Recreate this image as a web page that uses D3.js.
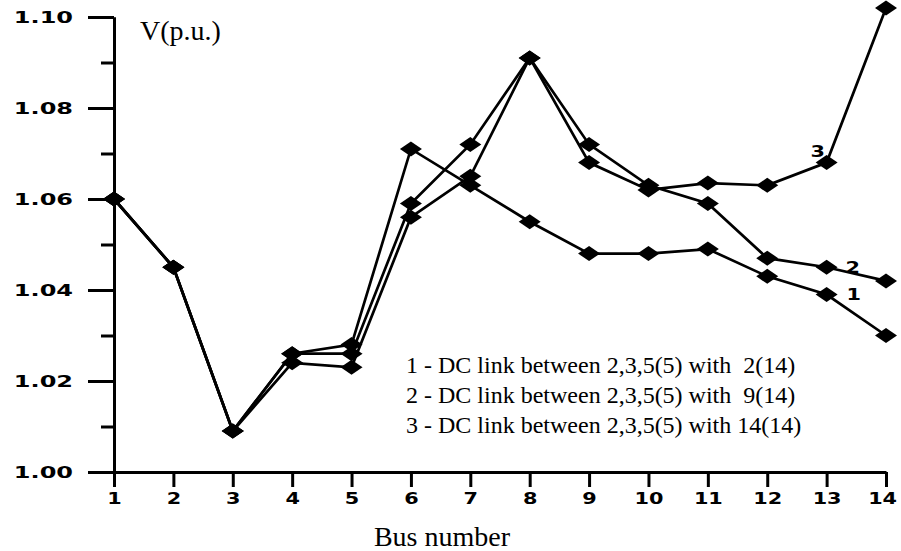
<!DOCTYPE html>
<html lang="en">
    <head>
        <meta charset="utf-8">
        <title>Bus voltage profile</title>
        <script type="text/javascript" src="https://cdn.jsdelivr.net/npm/d3@7"></script>
        <style type="text/css">
            body { margin: 0; background: #fff; }

            .axis path,
            .axis line {
                fill: none;
                stroke: black;
                stroke-width: 3px;
            }

            .axis text,
            .tag {
                font-family: "DejaVu Sans", sans-serif;
                font-weight: bold;
                font-size: 16px;
                fill: black;
            }

            .serif {
                font-family: "Liberation Serif", "Times New Roman", serif;
                fill: black;
            }
        </style>
    </head>
    <body>
        <script type="text/javascript">

            // Width and height
            var w = 901;
            var h = 551;

            // Data
            var buses = [1, 2, 3, 4, 5, 6, 7, 8, 9, 10, 11, 12, 13, 14];
            var series1 = [1.060, 1.045, 1.009, 1.026, 1.028, 1.071, 1.063, 1.055, 1.048, 1.048, 1.049, 1.043, 1.039, 1.030];
            var series2 = [1.060, 1.045, 1.009, 1.026, 1.026, 1.059, 1.072, 1.091, 1.072, 1.063, 1.059, 1.047, 1.045, 1.042];
            var series3 = [1.060, 1.045, 1.009, 1.024, 1.023, 1.056, 1.065, 1.091, 1.068, 1.062, 1.0635, 1.063, 1.068, 1.102];
            var seriesNames = ["1", "2", "3"];
            var yMajor = [1.00, 1.02, 1.04, 1.06, 1.08, 1.10];
            var yMinor = [1.01, 1.03, 1.05, 1.07, 1.09];
            var legendLines = [
                "1 - DC link between 2,3,5(5) with  2(14)",
                "2 - DC link between 2,3,5(5) with  9(14)",
                "3 - DC link between 2,3,5(5) with 14(14)"
            ];

            var allSeries = [series1, series2, series3];

            // Scales
            var xScale = d3.scaleLinear()
                           .domain([1, 14])
                           .range([114, 886]);

            var yScale = d3.scaleLinear()
                           .domain([1.00, 1.10])
                           .range([472, 17]);

            var stretch = 1.5;
            var xStretch = 1.3;

            var svg = d3.select("body")
                        .append("svg")
                        .attr("width", w)
                        .attr("height", h);

            // Axes
            var yAxisMinor = d3.axisLeft(yScale)
                               .tickValues(yMinor)
                               .tickSize(13)
                               .tickSizeOuter(0)
                               .tickFormat("");

            var yAxis = d3.axisLeft(yScale)
                          .tickValues(yMajor)
                          .tickSize(26)
                          .tickSizeOuter(0)
                          .tickPadding(15)
                          .tickFormat(d3.format(".2f"));

            var xAxis = d3.axisBottom(xScale)
                          .tickValues(buses)
                          .tickSize(15)
                          .tickSizeOuter(0)
                          .tickPadding(6)
                          .tickFormat(d3.format("d"));

            svg.append("g")
               .attr("class", "axis")
               .attr("transform", "translate(114,0)")
               .call(yAxisMinor);

            var gy = svg.append("g")
               .attr("class", "axis")
               .attr("transform", "translate(114,0)")
               .call(yAxis);

            gy.selectAll("text")
              .attr("x", -41 / stretch)
              .attr("transform", "scale(" + stretch + ",1)");

            var gx = svg.append("g")
               .attr("class", "axis")
               .attr("transform", "translate(0,472)")
               .call(xAxis);

            // the last label sits a touch left so it stays inside the frame
            gx.selectAll("text")
              .attr("x", function(d) { return d === 14 ? -3 : 0; })
              .attr("transform", "scale(" + xStretch + ",1)");

            // Lines
            var line = d3.line()
                         .x(function(d, i) { return xScale(buses[i]); })
                         .y(function(d) { return yScale(d); });

            svg.append("g")
               .selectAll("path")
               .data(allSeries)
               .enter()
               .append("path")
               .attr("d", line)
               .attr("fill", "none")
               .attr("stroke", "black")
               .attr("stroke-width", 2.7);

            // Diamond markers
            var diamond = "M-11,0L0,-7.5L11,0L0,7.5Z";
            allSeries.forEach(function(s) {
                svg.append("g")
                   .selectAll("path")
                   .data(s)
                   .enter()
                   .append("path")
                   .attr("d", diamond)
                   .attr("fill", "black")
                   .attr("transform", function(d, i) {
                       return "translate(" + xScale(buses[i]) + "," + yScale(d) + ")";
                   });
            });

            // Series numbers near bus 13
            var tagOffsets = [[27, 0], [26, 0], [-9, -11]];
            allSeries.forEach(function(s, k) {
                var tx = xScale(13) + tagOffsets[k][0];
                var ty = yScale(s[12]) + tagOffsets[k][1];
                svg.append("text")
                   .attr("class", "tag")
                   .attr("text-anchor", "middle")
                   .attr("dy", "0.36em")
                   .attr("font-size", "14px")
                   .attr("transform", "translate(" + tx + "," + ty + ") scale(1.3,1)")
                   .text(seriesNames[k]);
            });

            // Legend
            svg.append("g")
               .selectAll("text")
               .data(legendLines)
               .enter()
               .append("text")
               .attr("class", "serif")
               .attr("x", 406)
               .attr("y", function(d, i) { return 373 + i * 30; })
               .attr("font-size", "24px")
               .style("white-space", "pre")
               .text(function(d) { return d; });

            // Axis titles
            svg.append("text")
               .attr("class", "serif")
               .attr("x", 140)
               .attr("y", 40)
               .attr("font-size", "28px")
               .text("V(p.u.)");

            svg.append("text")
               .attr("class", "serif")
               .attr("x", 442)
               .attr("y", 546)
               .attr("text-anchor", "middle")
               .attr("font-size", "28px")
               .text("Bus number");

        </script>
    </body>
</html>
